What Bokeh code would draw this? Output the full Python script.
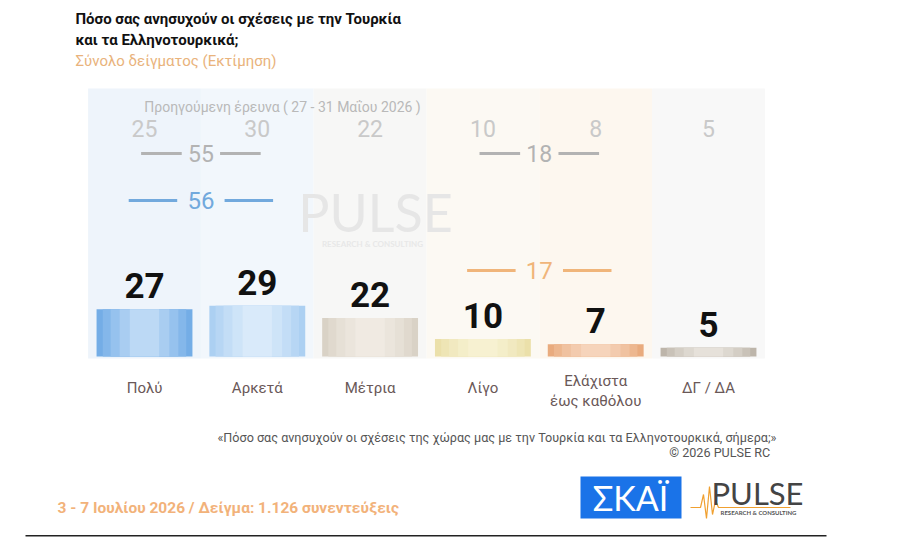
from bokeh.plotting import figure
from bokeh.models import Range1d, Label, BoxAnnotation
from bokeh.core.properties import value
from bokeh.embed import file_html
from bokeh.resources import INLINE

# Survey answers and shares (%)
categories = ["Πολύ", "Αρκετά", "Μέτρια", "Λίγο", "Ελάχιστα\nέως καθόλου", "ΔΓ / ΔΑ"]
current = [27, 29, 22, 10, 7, 5]
previous = [25, 30, 22, 10, 8, 5]

# Grouped totals (much+quite, little+not at all)
group_center = [0.5, 3.5]
group_now = [56, 17]
group_prev = [55, 18]

FONT = "Roboto"

# Bar shading, from the outer edge towards the centre
bar_shades = [
    ["#74ade6", "#84b7ea", "#96c2ee", "#a9cdf1", "#bcd9f5"],
    ["#acd0f2", "#b7d6f4", "#c3ddf6", "#cee4f8", "#d9eafa"],
    ["#d9d2c6", "#e0d9ce", "#e6e0d6", "#ebe5dc", "#f0eae2"],
    ["#ebe0aa", "#eee5b5", "#f1e9c0", "#f4eec9", "#f7f1d1"],
    ["#e9ab7e", "#edb78f", "#f0c2a0", "#f3cbae", "#f6d4bb"],
    ["#bdb5aa", "#c9c2b8", "#d4cec5", "#ddd8d0", "#e6e1da"],
]
shade_widths = [0.85, 0.74, 0.6, 0.44, 0.26]
col_bg = ["#eef4fb", "#f2f7fc", "#f7f7f6", "#fcf9f3", "#fdf7ef", "#f8f8f8"]

# Layout: column 0 centred at 144px, 112.8px apart; baseline at 356px, 1.75px per point
X0, DX = 144.0, 112.8
BASE, PPU = 356.0, 1.75
W, H = 900, 555


def xd(px):
    return (px - X0) / DX


def yd(py):
    return (BASE - py) / PPU


p = figure(width=W, height=H,
           x_range=Range1d(xd(0), xd(W)), y_range=Range1d(yd(H), yd(0)),
           output_backend="svg", toolbar_location=None, min_border=0,
           x_axis_location=None, y_axis_location=None)
p.grid.visible = False
p.outline_line_color = None
p.background_fill_color = "white"
p.border_fill_color = "white"

idx = list(range(len(categories)))

# Tinted column panels
p.quad(left=[i - 0.5 for i in idx], right=[i + 0.5 for i in idx],
       bottom=yd(358), top=yd(88), fill_color=col_bg, line_color=None)

# Faint watermark
p.text(x=[xd(375)], y=[yd(211)], text=["PULSE"], text_font=value("Lato"),
       text_font_size="52px", text_color="#e6e6e6", text_align="center",
       text_baseline="middle")
p.text(x=[xd(372)], y=[yd(243)], text=["RESEARCH & CONSULTING"], text_font=value("Lato"),
       text_font_size="8px", text_font_style="bold", text_color="#e8e8e8",
       text_align="center", text_baseline="middle")

# Bars with a soft metallic sheen
for k, w in enumerate(shade_widths):
    p.vbar(x=idx, top=current, bottom=0, width=w,
           fill_color=[s[k] for s in bar_shades], line_color=None)

# Current values above bars
p.text(x=idx, y=current, text=[str(v) for v in current], y_offset=-11,
       text_font=value(FONT), text_font_size="35px", text_font_style="bold",
       text_color="#111111", text_align="center", text_baseline="bottom")

# Previous survey
p.text(x=[xd(282)], y=[yd(106)], text=["Προηγούμενη έρευνα ( 27 - 31 Μαΐου 2026 )"],
       text_font=value(FONT), text_font_size="14px", text_color="#b9b9b9",
       text_align="center", text_baseline="middle")
p.text(x=idx, y=[yd(128)] * len(idx), text=[str(v) for v in previous],
       text_font=value(FONT), text_font_size="23px", text_color="#c9c9c9",
       text_align="center", text_baseline="middle")


def group_marks(centers, totals, py, color, inner, outer, size):
    for c, t in zip(centers, totals):
        for s in (-1, 1):
            p.segment(x0=[c + s * inner], x1=[c + s * outer], y0=[yd(py)], y1=[yd(py)],
                      line_color=color, line_width=3)
        p.text(x=[c], y=[yd(py)], text=[str(t)], text_font=value(FONT),
               text_font_size=size, text_color=color, text_align="center",
               text_baseline="middle")


group_marks(group_center, group_prev, 153, "#b3b3b3", 0.17, 0.53, "23px")
group_marks(group_center[:1], group_now[:1], 200, "#72a9dd", 0.21, 0.64, "24px")
group_marks(group_center[1:], group_now[1:], 270, "#f0b57a", 0.21, 0.64, "24px")

# Category labels
for i, cat in enumerate(categories):
    lines = cat.split("\n")
    n = len(lines)
    for k, line in enumerate(lines):
        py = 387 + (k - (n - 1) / 2) * 20 + (3 if n > 1 else 0)
        p.text(x=[i], y=[yd(py)], text=[line], text_font=value(FONT),
               text_font_size="15px", text_color="#6a5858", text_align="center",
               text_baseline="middle")


def label(text, x, y, size, color, align="left", style="normal", font=FONT):
    p.add_layout(Label(x=x, y=H - y, x_units="screen", y_units="screen", text=text,
                       text_font=font, text_font_size=size, text_color=color,
                       text_align=align, text_baseline="middle", text_font_style=style))


# Heading
label("Πόσο σας ανησυχούν οι σχέσεις με την Τουρκία", 75, 18, "15px", "#111111", style="bold")
label("και τα Ελληνοτουρκικά;", 75, 39, "15px", "#111111", style="bold")
label("Σύνολο δείγματος (Εκτίμηση)", 75, 60, "15px", "#e9b37c")

# Footnotes
label("«Πόσο σας ανησυχούν οι σχέσεις της χώρας μας με την Τουρκία και τα Ελληνοτουρκικά, σήμερα;»",
      776, 437, "12.6px", "#555555", align="right")
label("©  2026  PULSE RC", 776, 452, "12.6px", "#555555", align="right")
label("3 - 7  Ιουλίου 2026  /  Δείγμα:  1.126 συνεντεύξεις", 57, 507, "15.5px", "#f2b27a",
      style="bold")

# Broadcaster badge
p.add_layout(BoxAnnotation(left=580, right=681, bottom=H - 518, top=H - 476,
                           left_units="screen", right_units="screen",
                           bottom_units="screen", top_units="screen",
                           fill_color="#1a73e8", fill_alpha=1, line_color=None))
label("ΣΚΑΪ", 630, 497, "34px", "white", align="center", font="Lato")

# Pollster logo
p.line(x=[xd(v) for v in (690, 700, 703, 706, 709, 712, 715, 718, 790)],
       y=[yd(v) for v in (507, 507, 494, 518, 486, 514, 500, 507, 507)],
       line_color="#f0a030", line_width=1.2)
label("PULSE", 757, 492, "31px", "#444444", align="center", font="Lato")
label("RESEARCH & CONSULTING", 758, 512, "6px", "#555555", align="center", style="bold", font="Lato")

# Bottom rule
p.add_layout(BoxAnnotation(left=25, right=826, bottom=H - 536, top=H - 534.5,
                           left_units="screen", right_units="screen",
                           bottom_units="screen", top_units="screen",
                           fill_color="#222222", fill_alpha=1, line_color=None))

open("out.html", "w").write(file_html(p, INLINE))
